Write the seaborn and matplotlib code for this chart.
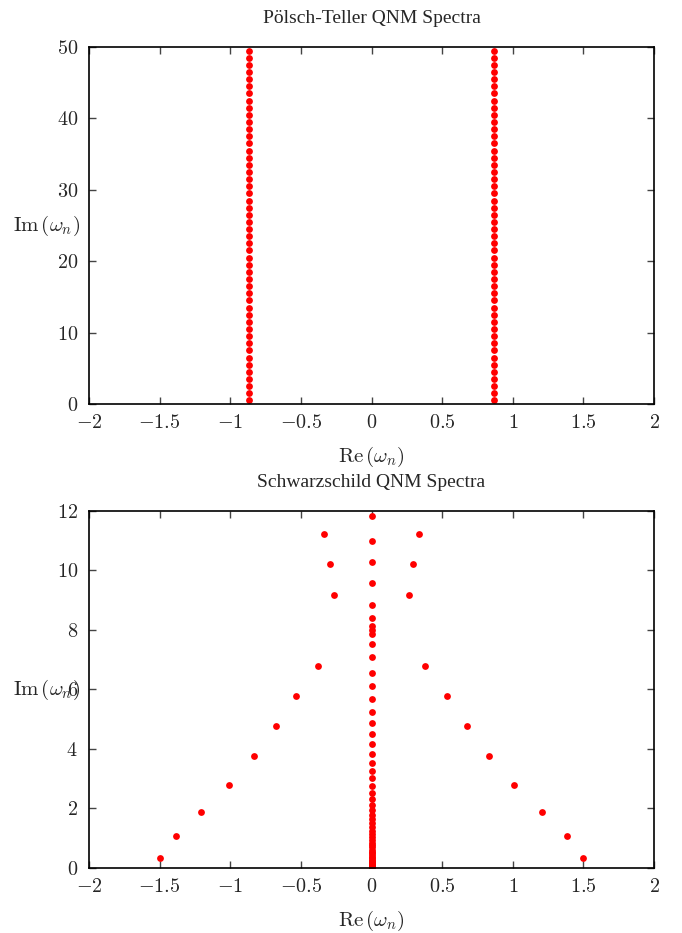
import matplotlib
matplotlib.use("Agg")
import matplotlib.pyplot as plt
import numpy as np
import pandas as pd
import seaborn as sns

# Pöschl-Teller overtones: Re = ±sqrt(3)/2, Im = n + 1/2
pt_re_abs = 0.866
pt_im = [0.5, 1.5, 2.5, 3.5, 4.5, 5.5, 6.5, 7.5, 8.5, 9.5,
         10.5, 11.5, 12.5, 13.5, 14.5, 15.5, 16.5, 17.5, 18.5, 19.5,
         20.5, 21.5, 22.5, 23.5, 24.5, 25.5, 26.5, 27.5, 28.5, 29.5,
         30.5, 31.5, 32.5, 33.5, 34.5, 35.5, 36.5, 37.5, 38.5, 39.5,
         40.5, 41.5, 42.5, 43.5, 44.5, 45.5, 46.5, 47.5, 48.5, 49.5]

# Schwarzschild overtones off the imaginary axis (mirrored in Re)
sw_re_abs = [1.495, 1.385, 1.205, 1.007, 0.830, 0.678, 0.537, 0.376,
             0.266, 0.295, 0.336]
sw_im = [0.35, 1.09, 1.89, 2.79, 3.77, 4.76, 5.77, 6.79,
         9.19, 10.21, 11.24]

# Modes on the imaginary axis (Re = 0)
axis_im = [11.84, 10.99, 10.27, 9.57, 8.85, 8.41, 8.12, 8.00, 7.88, 7.52,
           7.09, 6.57, 6.12, 5.67, 5.25, 4.87, 4.50, 4.16, 3.84, 3.53,
           3.26, 3.01, 2.76, 2.53, 2.32, 2.13, 1.95, 1.78, 1.64, 1.50,
           1.37, 1.25, 1.14, 1.04, 0.94, 0.85, 0.77, 0.69, 0.62, 0.55,
           0.49, 0.43, 0.38, 0.33, 0.28, 0.24, 0.20, 0.17, 0.14, 0.11,
           0.08, 0.06, 0.04, 0.02, 0.01, 0.0]

x_ticks = [-2, -1.5, -1, -0.5, 0, 0.5, 1, 1.5, 2]
x_tick_labels = ["$-2$", "$-1.5$", "$-1$", "$-0.5$", "$0$", "$0.5$", "$1$", "$1.5$", "$2$"]
top_y_ticks = [0, 10, 20, 30, 40, 50]
bot_y_ticks = [0, 2, 4, 6, 8, 10, 12]

sns.set_style("ticks")
plt.rcParams["mathtext.fontset"] = "cm"
plt.rcParams["font.family"] = ["Liberation Serif", "DejaVu Serif"]

pt_df = pd.DataFrame({
    "re": [-pt_re_abs] * len(pt_im) + [pt_re_abs] * len(pt_im),
    "im": pt_im + pt_im,
})
sw_df = pd.DataFrame({
    "re": [-r for r in sw_re_abs] + sw_re_abs + [0.0] * len(axis_im),
    "im": sw_im + sw_im + axis_im,
})

fig = plt.figure(figsize=(6.82, 9.33), dpi=100)
ax1 = fig.add_axes([0.1305, 0.567, 0.8285, 0.3826])
ax2 = fig.add_axes([0.1305, 0.0697, 0.8285, 0.3826])

red = "#ff0000"
sns.scatterplot(data=pt_df, x="re", y="im", ax=ax1, color=red, s=24,
                linewidth=0, legend=False)
sns.scatterplot(data=sw_df, x="re", y="im", ax=ax2, color=red, s=24,
                linewidth=0, legend=False)

def style(ax, yticks, ylim, title):
    ax.set_xlim(-2, 2)
    ax.set_ylim(*ylim)
    ax.set_xticks(x_ticks)
    ax.set_xticklabels(x_tick_labels)
    ax.set_yticks(yticks)
    ax.set_yticklabels([f"${v}$" for v in yticks])
    ax.tick_params(direction="in", length=5, width=1, top=True, right=True,
                   labelsize=14.5, color="#444444")
    ax.tick_params(axis="x", pad=7)
    ax.tick_params(axis="y", pad=8)
    for sp in ax.spines.values():
        sp.set_linewidth(1.2)
        sp.set_color("black")
    ax.set_xlabel("")
    ax.set_ylabel("")
    ax.text(0.5, -0.148, r"$\mathrm{Re}\,(\omega_n)$", transform=ax.transAxes,
            ha="center", va="center", fontsize=15)
    ax.text(-0.016, 0.5, r"$\mathrm{Im}\,(\omega_n)$", transform=ax.transAxes,
            ha="right", va="center", fontsize=15)
    ax.text(0.5, 1.08, title, transform=ax.transAxes, ha="center",
            va="center", fontsize=14)

style(ax1, top_y_ticks, (0, 50), "Pölsch-Teller QNM Spectra")
style(ax2, bot_y_ticks, (0, 12), "Schwarzschild QNM Spectra")

fig.savefig("out.png", dpi=100)
